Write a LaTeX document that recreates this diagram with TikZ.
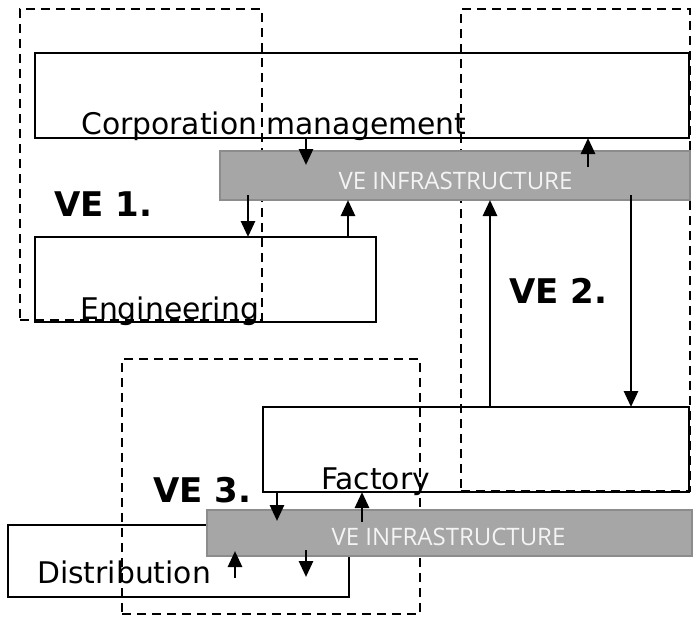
\documentclass[tikz,border=0pt]{standalone}
\usepackage{fontspec}
\setmainfont{DejaVu Sans}
\newfontfamily\barfont{Open Sans}
\usetikzlibrary{arrows.meta}
\definecolor{barfill}{HTML}{A6A6A6}
\definecolor{barborder}{HTML}{8C8C8C}
\definecolor{bartxt}{HTML}{F4F4F4}
\begin{document}
\begin{tikzpicture}[x=1pt,y=-1pt,
 box/.style={draw=black, fill=none, line width=2.8pt, inner sep=0pt, outer sep=0pt, anchor=north west},
 vebox/.style={draw=black, dash pattern=on 9pt off 6pt, line width=2.8pt, inner sep=0pt, outer sep=0pt, anchor=north west},
 bar/.style={draw=barborder, fill=barfill, line width=2.8pt, inner sep=0pt, outer sep=0pt, anchor=north west},
 arr/.style={line width=2.8pt, -{Triangle[length=16pt,width=14pt]}},
 lbl/.style={font=\fontsize{29.8}{30}\selectfont, inner sep=0pt, anchor=base west},
 velbl/.style={font=\fontsize{34}{35}\selectfont\bfseries, inner sep=0pt, anchor=base west},
 bartext/.style={font=\barfont\fontsize{24}{25}\selectfont, text=bartxt, inner sep=0pt}]

\useasboundingbox (0,0) rectangle (696,618);

% boxes
\node[box, minimum width=654pt, minimum height=85pt] (corp) at (35,53) {};
\node[box, minimum width=341pt, minimum height=85pt] (eng) at (35,237) {};
\node[box, minimum width=426pt, minimum height=85pt] (fact) at (263,407) {};
\node[box, minimum width=341pt, minimum height=72pt] (dist) at (8,525) {};

% dashed VE regions
\node[vebox, minimum width=242pt, minimum height=311pt] (ve1) at (20,9) {};
\node[vebox, minimum width=229pt, minimum height=482pt] (ve2) at (461,9) {};
\node[vebox, minimum width=298pt, minimum height=255pt] (ve3) at (122,359) {};

% infrastructure bars
\node[bar, minimum width=470pt, minimum height=49pt] (bar1) at (220,151) {};
\node[bar, minimum width=485pt, minimum height=46pt] (bar2) at (207,510) {};
\node[bartext] (bar1t) at (455.5,180.5) {VE INFRASTRUCTURE};
\node[bartext] (bar2t) at (448.5,537) {VE INFRASTRUCTURE};

% arrow end points
\coordinate (c1a) at (306,138); \coordinate (c1b) at (306,165);
\coordinate (c2a) at (588,167); \coordinate (c2b) at (588,138);
\coordinate (c3a) at (248,195); \coordinate (c3b) at (248,237);
\coordinate (c4a) at (348,237); \coordinate (c4b) at (348,200);
\coordinate (c5a) at (490,407); \coordinate (c5b) at (490,200);
\coordinate (c6a) at (631,195); \coordinate (c6b) at (631,407);
\coordinate (d1a) at (277,492); \coordinate (d1b) at (277,521);
\coordinate (d2a) at (362,522); \coordinate (d2b) at (362,492);
\coordinate (d3a) at (235,578); \coordinate (d3b) at (235,551);
\coordinate (d4a) at (306,550); \coordinate (d4b) at (306,577);

\draw[arr] (c1a) -- (c1b);
\draw[arr] (c2a) -- (c2b);
\draw[arr] (c3a) -- (c3b);
\draw[arr] (c4a) -- (c4b);
\draw[arr] (c5a) -- (c5b);
\draw[arr] (c6a) -- (c6b);
\draw[arr] (d1a) -- (d1b);
\draw[arr] (d2a) -- (d2b);
\draw[arr] (d3a) -- (d3b);
\draw[arr] (d4a) -- (d4b);

% labels
\node[lbl] (corpt) at (81,134) {Corporation management};
\node[lbl] (engt) at (80,319) {Engineering};
\node[lbl] (factt) at (321,489) {Factory};
\node[lbl] (distt) at (37,583) {Distribution};

\node[velbl] (ve1t) at (54,216) {VE 1.};
\node[velbl] (ve2t) at (509,303) {VE 2.};
\node[velbl] (ve3t) at (153,502) {VE 3.};
\end{tikzpicture}
\end{document}
